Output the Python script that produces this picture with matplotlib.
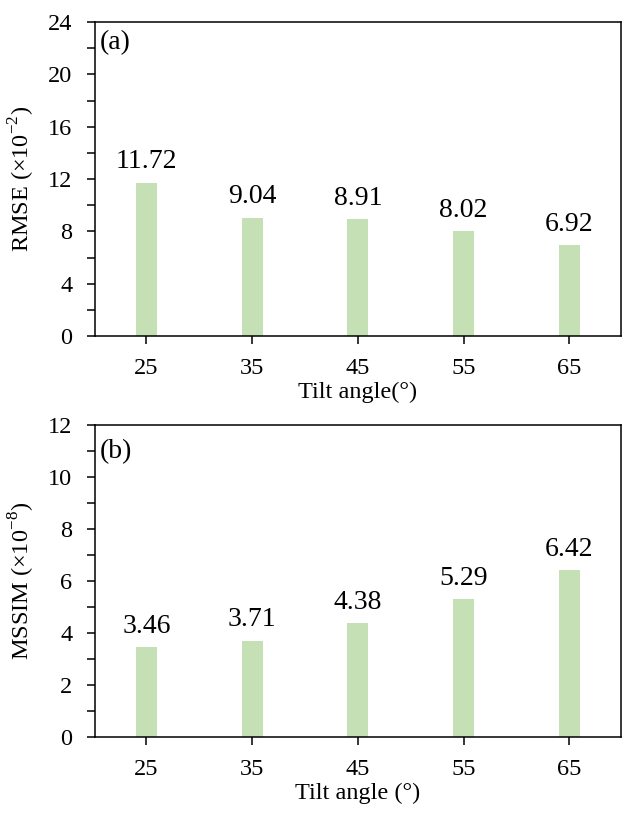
import numpy as np
import matplotlib
matplotlib.use('Agg')
import matplotlib.pyplot as plt
from matplotlib.ticker import MultipleLocator

# tilt angles and the two metrics
angles = ['25', '35', '45', '55', '65']
rmse = [11.72, 9.04, 8.91, 8.02, 6.92]
mssim = [3.46, 3.71, 4.38, 5.29, 6.42]

plt.rcParams['font.family'] = ['Liberation Serif', 'DejaVu Serif']
plt.rcParams['mathtext.fontset'] = 'custom'
plt.rcParams['mathtext.rm'] = 'Liberation Serif'
plt.rcParams['font.size'] = 18
plt.rcParams['axes.linewidth'] = 1.1

bar_color = '#c5e0b4'

fig = plt.figure(figsize=(6.23, 8.13), dpi=100)
ax1 = fig.add_axes([0.152, 0.5867, 0.845, 0.3862])
ax2 = fig.add_axes([0.152, 0.0935, 0.845, 0.3838])

def draw(ax, vals, ymax, major, tag, ylabel, xlabel, tag_y):
    x = np.arange(len(angles))
    bars = ax.bar(x, vals, width=0.2, color=bar_color)
    for b, v in zip(bars, vals):
        ax.annotate('%.2f' % v, (b.get_x() + b.get_width() / 2, v),
                    xytext=(0, 6), textcoords='offset points',
                    ha='center', va='bottom', fontsize=20)
    ax.set_xlim(-0.49, 4.49)
    ax.set_ylim(0, ymax)
    ax.set_xticks(x)
    ax.set_xticklabels(angles)
    ax.yaxis.set_major_locator(MultipleLocator(major))
    ax.yaxis.set_minor_locator(MultipleLocator(major / 2))
    ax.tick_params(axis='both', which='both', direction='out', length=6,
                   width=1.1, labelsize=17.5)
    ax.tick_params(axis='y', pad=10)
    ax.tick_params(axis='x', pad=10)
    ax.set_ylabel(ylabel, fontsize=17.5, labelpad=8)
    ax.set_xlabel(xlabel, fontsize=17.5, labelpad=2)
    ax.text(0.01, tag_y, tag, transform=ax.transAxes, ha='left', va='top',
            fontsize=20)

draw(ax1, rmse, 24, 4, '(a)', r'RMSE ($\times$10$^{-2}$)', 'Tilt angle(°)', 0.975)
draw(ax2, mssim, 12, 2, '(b)', r'MSSIM ($\times$10$^{-8}$)', 'Tilt angle (°)', 0.955)

plt.savefig('out.png', dpi=100)
